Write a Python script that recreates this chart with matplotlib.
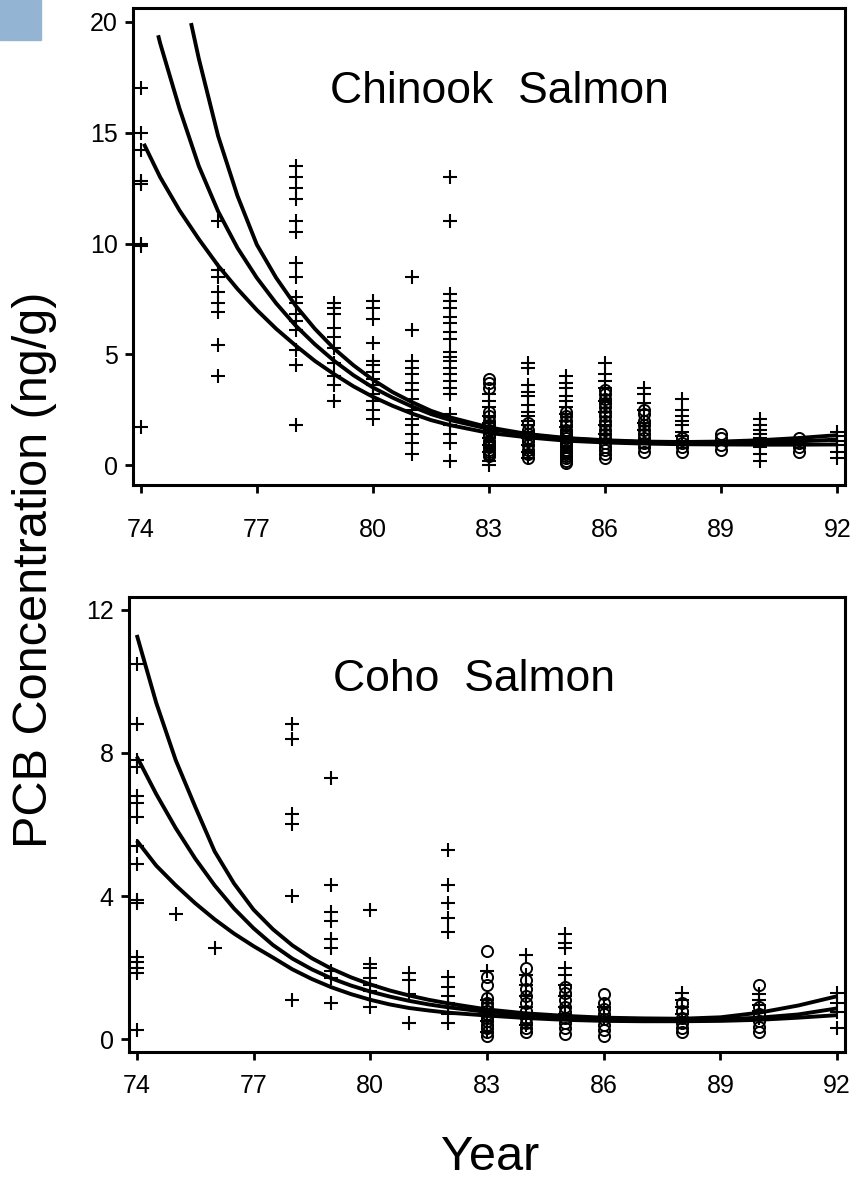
import matplotlib
matplotlib.use("Agg")
import matplotlib.pyplot as plt
from matplotlib.patches import Rectangle

# ---------------- data ----------------
chinook_plus = {
    74: [17.0, 15.0, 14.2, 12.8, 12.7, 10.0, 9.9, 1.7],
    76: [11.0, 8.8, 8.5, 7.8, 7.3, 6.9, 5.4, 4.0],
    78: [13.5, 13.0, 12.5, 12.0, 11.0, 10.5, 9.1, 8.5, 7.6, 7.3, 6.8, 6.5, 6.1, 5.2, 4.5, 1.8],
    79: [7.3, 7.1, 6.8, 6.2, 5.8, 5.3, 4.6, 4.0, 3.6, 2.9],
    80: [7.4, 7.1, 6.6, 5.5, 4.7, 4.5, 4.2, 3.9, 3.6, 3.2, 2.9, 2.5, 2.1],
    81: [8.5, 6.1, 4.7, 4.4, 4.1, 3.7, 3.4, 3.0, 2.5, 2.1, 1.8, 1.4, 1.0, 0.5],
    82: [13.0, 11.0, 7.7, 7.4, 7.1, 6.7, 6.4, 6.0, 5.7, 5.1, 4.9, 4.7, 4.4, 4.1, 3.8, 3.5, 3.2,
         2.3, 1.8, 1.4, 1.0, 0.2],
    83: [3.2, 2.9, 2.6, 2.2, 1.9, 1.5, 1.2, 0.9, 0.6, 0.2, 0.0],
    84: [4.6, 4.4, 3.6, 3.3, 3.1, 2.7, 2.4, 2.2, 2.0, 1.8, 1.5, 1.2, 0.9, 0.6, 0.3],
    85: [4.0, 3.7, 3.5, 3.1, 2.9, 2.6, 2.3, 2.0, 1.7],
    86: [4.6, 4.1, 3.8, 3.5, 2.9, 2.4, 1.8, 1.4],
    87: [3.5, 3.2, 2.8, 2.5, 1.9, 1.6],
    88: [3.0, 2.5, 2.2, 2.0, 1.8, 1.5, 1.3, 1.1],
    90: [2.1, 1.8, 1.6, 1.4, 1.2, 1.0, 0.8, 0.5, 0.2],
    92: [1.5, 1.3, 1.1, 0.9, 0.6, 0.3],
}
chinook_circle = {
    83: [3.9, 3.7, 3.5, 2.4, 2.2, 2.0, 1.8, 1.6, 1.4, 1.3, 1.1, 1.0, 0.9, 0.8, 0.7, 0.6, 0.5, 0.4],
    84: [1.9, 1.6, 1.4, 1.2, 1.1, 0.9, 0.7, 0.5, 0.3],
    85: [2.4, 2.2, 2.0, 1.8, 1.6, 1.5, 1.4, 1.3, 1.2, 1.1, 1.0, 0.9, 0.8, 0.7, 0.6, 0.5, 0.4,
         0.3, 0.2, 0.1],
    86: [3.4, 3.2, 3.0, 2.8, 2.6, 2.4, 2.2, 2.0, 1.8, 1.6, 1.4, 1.2, 1.0, 0.8, 0.7, 0.5, 0.3],
    87: [2.5, 2.3, 2.0, 1.8, 1.6, 1.4, 1.2, 1.0, 0.8, 0.6],
    88: [1.2, 1.0, 0.8, 0.6],
    89: [1.4, 1.2, 0.9, 0.7],
    91: [1.2, 1.0, 0.8, 0.6],
}

chinook_upper_t = [75.3, 75.5, 76, 76.5, 77, 77.5, 78, 78.5, 79, 79.5, 80, 80.5, 81, 81.5, 82,
                   83, 84, 85, 86, 87, 88, 89, 90, 91, 92]
chinook_upper_v = [19.95, 18.35, 14.85, 12.15, 9.95, 8.45, 7.2, 6.15, 5.25, 4.5, 3.85, 3.3,
                   2.85, 2.45, 2.15, 1.7, 1.4, 1.22, 1.12, 1.06, 1.04, 1.06, 1.12, 1.22, 1.35]
chinook_mid_t = [74.45, 74.5, 75, 75.5, 76, 76.5, 77, 77.5, 78, 78.5, 79, 79.5, 80, 80.5, 81,
                 81.5, 82, 83, 84, 85, 86, 87, 88, 89, 90, 91, 92]
chinook_mid_v = [19.4, 19.05, 16.1, 13.5, 11.45, 9.8, 8.45, 7.3, 6.3, 5.45, 4.7, 4.05, 3.5,
                 3.05, 2.65, 2.3, 2.03, 1.63, 1.37, 1.2, 1.1, 1.04, 1.0, 1.0, 1.02, 1.07, 1.15]
chinook_low_t = [74.08, 74.5, 75, 75.5, 76, 76.5, 77, 77.5, 78, 78.5, 79, 79.5, 80, 80.5, 81,
                 81.5, 82, 83, 84, 85, 86, 87, 88, 89, 90, 91, 92]
chinook_low_v = [14.5, 13.0, 11.5, 10.2, 9.0, 7.95, 7.0, 6.15, 5.4, 4.7, 4.1, 3.55, 3.08, 2.68,
                 2.33, 2.03, 1.8, 1.45, 1.25, 1.1, 1.02, 0.97, 0.94, 0.93, 0.92, 0.92, 0.93]

coho_plus = {
    74: [10.5, 8.8, 7.8, 7.6, 6.8, 6.6, 6.2, 5.4, 4.9, 3.9, 3.8, 2.3, 2.15, 2.0, 1.85, 0.25],
    75: [3.5],
    76: [2.55],
    78: [8.8, 8.4, 6.3, 6.0, 4.0, 1.1],
    79: [7.3, 4.3, 3.55, 3.3, 2.8, 2.55, 1.9, 1.7, 1.0],
    80: [3.6, 2.1, 2.0, 1.7, 1.5, 1.35, 0.9],
    81: [1.85, 1.65, 1.25, 0.45],
    82: [5.3, 4.3, 3.8, 3.4, 3.0, 1.75, 1.45, 1.2, 1.0, 0.7, 0.45],
    83: [1.9, 1.1, 0.8, 0.5, 0.2],
    84: [2.35, 1.8, 1.5, 1.2, 0.9, 0.6, 0.4],
    85: [2.95, 2.7, 2.55, 2.0, 1.8, 1.5, 1.2, 0.9, 0.7],
    86: [0.9, 0.6],
    88: [1.3, 1.1, 0.9, 0.7],
    90: [1.25, 1.1, 0.95, 0.8, 0.6],
    92: [1.3, 1.0, 0.75, 0.3],
}
coho_circle = {
    83: [2.45, 1.75, 1.5, 1.15, 1.0, 0.9, 0.8, 0.7, 0.6, 0.5, 0.4, 0.3, 0.2, 0.1],
    84: [2.0, 1.65, 1.4, 1.2, 1.0, 0.8, 0.6, 0.45, 0.3, 0.2],
    85: [1.45, 1.3, 1.1, 0.9, 0.75, 0.6, 0.45, 0.3, 0.15],
    86: [1.25, 1.0, 0.85, 0.7, 0.55, 0.4, 0.25, 0.1],
    88: [1.0, 0.8, 0.6, 0.45, 0.3, 0.2],
    90: [1.5, 0.9, 0.7, 0.5, 0.35, 0.2],
}

coho_t = [74, 74.5, 75, 75.5, 76, 76.5, 77, 77.5, 78, 78.5, 79, 79.5, 80, 80.5, 81, 81.5, 82,
          83, 84, 85, 86, 87, 88, 89, 90, 91, 92]
coho_upper_v = [11.3, 9.4, 7.8, 6.5, 5.25, 4.35, 3.62, 3.07, 2.62, 2.26, 1.97, 1.73, 1.53, 1.36,
                1.22, 1.1, 1.0, 0.83, 0.72, 0.65, 0.6, 0.58, 0.57, 0.61, 0.74, 0.94, 1.2]
coho_mid_v = [7.9, 6.85, 5.9, 5.05, 4.3, 3.65, 3.1, 2.63, 2.25, 1.95, 1.7, 1.5, 1.33, 1.19,
              1.07, 0.97, 0.89, 0.76, 0.66, 0.6, 0.56, 0.54, 0.54, 0.55, 0.6, 0.69, 0.86]
coho_low_v = [5.55, 4.85, 4.3, 3.8, 3.35, 2.95, 2.6, 2.28, 1.95, 1.68, 1.45, 1.26, 1.1, 0.97,
              0.87, 0.8, 0.74, 0.66, 0.59, 0.54, 0.51, 0.5, 0.5, 0.51, 0.54, 0.6, 0.67]

x_ticks = [74, 77, 80, 83, 86, 89, 92]
chinook_yticks = [0, 5, 10, 15, 20]
coho_yticks = [0, 4, 8, 12]

# ---------------- figure ----------------
plt.rcParams['font.family'] = ['Liberation Sans', 'DejaVu Sans']
W, H = 867, 1178
fig = plt.figure(figsize=(W / 100, H / 100), dpi=100)
fig.patches.append(Rectangle((0, 1 - 40 / H), 41 / W, 40 / H, transform=fig.transFigure,
                             color='#93B4D2', zorder=0))

ax1 = fig.add_axes([133 / W, 1 - 485 / H, 712 / W, 477 / H])
ax2 = fig.add_axes([129 / W, 1 - 1052 / H, 716 / W, 455 / H])


def scatter_dict(ax, d, marker, ms, **kw):
    xs, ys = [], []
    for yr, vals in d.items():
        xs += [yr] * len(vals)
        ys += vals
    ax.plot(xs, ys, linestyle='none', marker=marker, ms=ms, color='black', **kw)


for ax, xpad in ((ax1, 18), (ax2, 10)):
    for s in ax.spines.values():
        s.set_linewidth(2.2)
    ax.set_xlim(73.8, 92.2)
    ax.set_xticks(x_ticks)
    ax.set_xticklabels([str(t) for t in x_ticks])
    ax.tick_params(direction='out', length=6, width=2, labelsize=18, top=False, right=False)
    ax.tick_params(axis='x', pad=xpad)
    ax.tick_params(axis='y', pad=5)

scatter_dict(ax1, chinook_plus, '+', 10, mew=1.5)
scatter_dict(ax1, chinook_circle, 'o', 8, mfc='none', mew=1.4)
for t, v in ((chinook_upper_t, chinook_upper_v), (chinook_mid_t, chinook_mid_v),
             (chinook_low_t, chinook_low_v)):
    ax1.plot(t, v, color='black', lw=2.8, solid_capstyle='butt', solid_joinstyle='round')
ax1.set_ylim(-0.9, 20.63)
ax1.set_yticks(chinook_yticks)
ax1.text(0.515, 0.825, 'Chinook  Salmon', transform=ax1.transAxes, ha='center', va='center',
         fontsize=32)

scatter_dict(ax2, coho_plus, '+', 10, mew=1.5)
scatter_dict(ax2, coho_circle, 'o', 8, mfc='none', mew=1.4)
for v in (coho_upper_v, coho_mid_v, coho_low_v):
    ax2.plot(coho_t, v, color='black', lw=2.8, solid_capstyle='butt', solid_joinstyle='round')
ax2.set_ylim(-0.36, 12.36)
ax2.set_yticks(coho_yticks)
ax2.text(0.482, 0.818, 'Coho  Salmon', transform=ax2.transAxes, ha='center', va='center',
         fontsize=32)

fig.text(35 / W, 1 - 570 / H, 'PCB Concentration (ng/g)', rotation=90, ha='center',
         va='center', fontsize=35)
fig.text(490 / W, 1 - 1157 / H, 'Year', ha='center', va='center', fontsize=35)

fig.savefig('out.png', dpi=100)
